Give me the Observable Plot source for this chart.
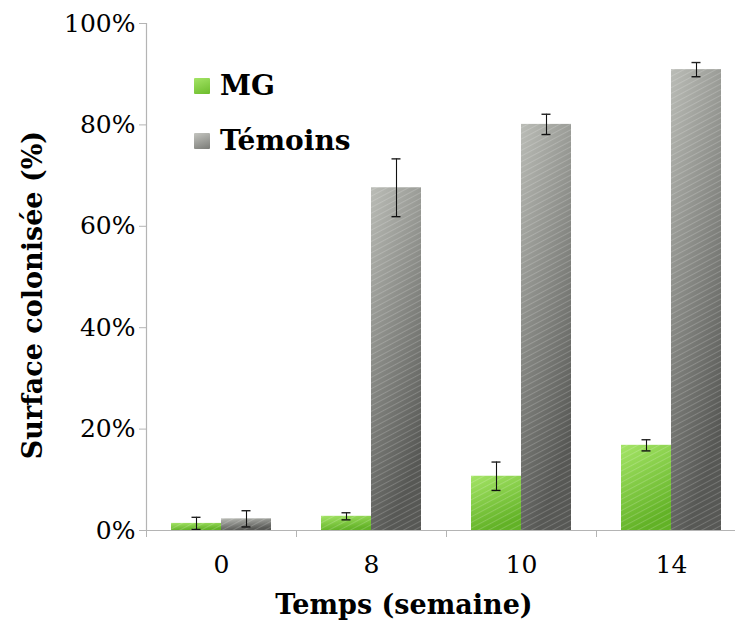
<!DOCTYPE html>
<html><head><meta charset="utf-8">
<script src="https://cdn.jsdelivr.net/npm/d3@7"></script>
<script src="https://cdn.jsdelivr.net/npm/@observablehq/plot@0.6"></script>
<style>
html,body{margin:0;padding:0;overflow:hidden;background:#fff}
#wrap{position:relative;width:735px;height:621px;overflow:hidden}
#wrap svg{display:block}
.leg{position:absolute;display:flex;align-items:center;font:bold 28px "DejaVu Serif",serif;color:#000;white-space:nowrap}
.sw{width:16px;height:16px;margin-right:10px;border-radius:1px}
</style></head><body><div id="wrap"></div>
<script>
const categories = ["0", "8", "10", "14"];
const seriesNames = ["MG", "Témoins"];
const mgValues = [1.4, 2.8, 10.7, 16.8];
const mgErrors = [1.2, 0.7, 2.8, 1.1];
const temoinsValues = [2.3, 67.6, 80.1, 90.9];
const temoinsErrors = [1.6, 5.7, 2.0, 1.4];
const yTicks = [0, 20, 40, 60, 80, 100];
const xTitle = "Temps (semaine)";
const yTitle = "Surface colonisée (%)";

// build rows: MG occupies left part of each group, Témoins the right
const rows = [];
categories.forEach((c, i) => {
  rows.push({cat: c, i, series: seriesNames[0], value: mgValues[i], err: mgErrors[i], x1: i - 1/3, x2: i});
  rows.push({cat: c, i, series: seriesNames[1], value: temoinsValues[i], err: temoinsErrors[i], x1: i, x2: i + 1/3});
});
rows.forEach(d => { d.xc = (d.x1 + d.x2) / 2; });

const serif = "DejaVu Serif";
const axisGray = "#b4b4b4";

const chart = Plot.plot({
  width: 735,
  height: 621,
  marginLeft: 146,
  marginRight: 0,
  marginTop: 23,
  marginBottom: 91,
  style: {fontFamily: serif, background: "#fff", overflow: "visible"},
  x: {type: "linear", domain: [-0.5, categories.length - 0.5], range: [146, 746]},
  y: {domain: [0, 100]},
  marks: [
    Plot.rectY(rows.filter(d => d.series === "MG"), {x1: "x1", x2: "x2", y: "value", fill: "#8fd84a", className: "bar-mg"}),
    Plot.rectY(rows.filter(d => d.series === "Témoins"), {x1: "x1", x2: "x2", y: "value", fill: "#8d8e8a", className: "bar-tem"}),
    Plot.rectY(rows, {x1: "x1", x2: "x2", y: "value", fill: "#fff", fillOpacity: 0.0, className: "bar-hatch"}),
    // error bars
    Plot.ruleX(rows, {x: "xc", y1: d => d.value - d.err, y2: d => d.value + d.err, stroke: "#111", strokeWidth: 1.1}),
    Plot.ruleY(rows, {y: d => d.value + d.err, x1: d => d.xc - 0.03, x2: d => d.xc + 0.03, stroke: "#222", strokeWidth: 1.4}),
    Plot.ruleY(rows, {y: d => d.value - d.err, x1: d => d.xc - 0.03, x2: d => d.xc + 0.03, stroke: "#111", strokeWidth: 1.4}),
    // axis lines
    Plot.ruleY([0], {stroke: axisGray, strokeWidth: 1.2}),
    Plot.ruleX([-0.5], {stroke: axisGray, strokeWidth: 1.2}),
    // y axis ticks & labels
    Plot.axisY({ticks: yTicks, tickSize: 7, tickPadding: 4, tickFormat: d => d + "%", stroke: axisGray, fontSize: 25, fill: "#000", label: null}),
    // x axis boundary ticks
    Plot.axisX({ticks: categories.map((c, i) => i - 0.5), tickSize: 7, tickFormat: () => "", stroke: axisGray, label: null}),
    // x axis category labels
    Plot.axisX({ticks: categories.map((c, i) => i), tickSize: 0, tickPadding: 25, tickFormat: i => categories[i], fontSize: 25, fill: "#000", label: null}),
    // titles
    Plot.text([xTitle], {frameAnchor: "bottom", dx: -37, dy: 75, textAnchor: "middle", lineAnchor: "middle", fontSize: 27, fontWeight: "bold", fill: "#000"}),
    Plot.text([yTitle], {frameAnchor: "left", rotate: -90, dx: -113, dy: 18, textAnchor: "middle", lineAnchor: "middle", fontSize: 27, fontWeight: "bold", fill: "#000"})
  ]
});

const svg = d3.select(chart);
svg.insert("defs", ":first-child").html(`
  <linearGradient id="gMG" x1="0" y1="0" x2="0.35" y2="1">
    <stop offset="0" stop-color="#a4e466"/>
    <stop offset="1" stop-color="#62b226"/>
  </linearGradient>
  <linearGradient id="gTem" x1="0" y1="0" x2="0.35" y2="1">
    <stop offset="0" stop-color="#babcb6"/>
    <stop offset="1" stop-color="#575855"/>
  </linearGradient>
  <pattern id="hatch" width="5" height="5" patternUnits="userSpaceOnUse" patternTransform="rotate(-28)">
    <line x1="0" y1="2.5" x2="5" y2="2.5" stroke="#ffffff" stroke-width="1" stroke-opacity="0.18"/>
  </pattern>`);
svg.selectAll(".bar-mg rect").attr("fill", "url(#gMG)");
svg.selectAll(".bar-tem rect").attr("fill", "url(#gTem)");
svg.selectAll(".bar-hatch rect").attr("fill", "url(#hatch)").attr("fill-opacity", 1);

const wrap = document.getElementById("wrap");
wrap.appendChild(chart);

// legend
const legendItems = [
  {name: seriesNames[0], grad: "linear-gradient(160deg,#a4e466,#6cbc2c)", top: 69},
  {name: seriesNames[1], grad: "linear-gradient(160deg,#c4c5c0,#7a7b77)", top: 124}
];
legendItems.forEach(it => {
  const el = document.createElement("div");
  el.className = "leg";
  el.style.left = "194px";
  el.style.top = it.top + "px";
  el.innerHTML = `<span class="sw" style="background:${it.grad}"></span><span>${it.name}</span>`;
  wrap.appendChild(el);
});
</script></body></html>
